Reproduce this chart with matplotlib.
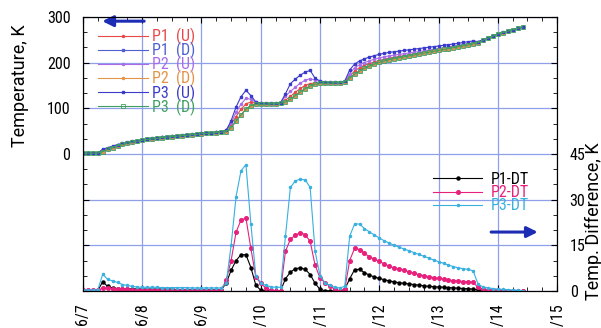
import numpy as np
import matplotlib.pyplot as plt
from matplotlib.ticker import MultipleLocator, FuncFormatter

plt.rcParams['font.family'] = ['Roboto Condensed', 'Liberation Sans Narrow', 'DejaVu Sans']

# sampling every 2 hours from 6/7 00:00
hours = np.arange(0, 180, 2)
days = hours / 24.0

date_labels = ['6/7', '6/8', '6/9', '6/10', '6/11', '6/12', '6/13', '6/14', '6/15']

# downstream temperature (K)
temp_down = np.array([
    2, 2, 2, 2,
    5, 10, 14, 18, 21, 24, 26, 28,
    30, 32, 33, 34, 36, 37, 38, 39, 40, 41, 42, 43, 44, 45, 46, 47, 48, 49,
    58, 72, 86, 98, 106, 109, 109, 109, 110, 110, 111,
    114, 120, 128, 136, 143, 149, 153, 155, 155, 155, 156, 156,
    158, 166, 175, 182, 188, 193, 197,
    201, 204, 207, 209, 211, 213, 215, 217, 219, 221, 223, 225, 227, 229,
    231, 233, 235, 237, 239, 241,
    244, 249, 254, 258, 263, 266, 269, 272, 275, 278])

# temperature differences U - D (K)
dt_p1 = np.array([
    0.1, 0.1, 0.1, 0.1,
    3.0, 1.5, 1.0, 0.8, 0.7, 0.6, 0.6, 0.6,
    0.5, 0.5, 0.5, 0.5, 0.5, 0.5, 0.5, 0.4, 0.4, 0.4, 0.4, 0.4, 0.4, 0.4, 0.4, 0.4, 0.4,
    2.5, 6.8, 10, 11.9, 11.9, 7.7, 1.9, 0.2, 0, 0, 0, 0,
    4, 6.2, 7.3, 7.6, 7.1, 5.4, 2.5, 0.5, 0.1, 0, 0, 0,
    0.5, 4.0, 7.0, 7.1, 6.0, 5.2, 4.6, 4.1, 3.7, 3.3, 3.0, 2.7, 2.5, 2.3, 2.1,
    1.9, 1.7, 1.5, 1.4, 1.3, 1.2, 1.1, 1.0, 0.9, 0.8, 0.7, 0.6,
    0.3, 0.2, 0.1, 0.1, 0, 0, 0, 0, 0, 0])
dt_p2 = np.array([
    0.2, 0.2, 0.2, 0.2,
    1.0, 0.9, 0.8, 0.7, 0.6, 0.5, 0.4, 0.4,
    0.3, 0.3, 0.3, 0.2, 0.3, 0.3, 0.2, 0.2, 0.3, 0.2, 0.2, 0.2, 0.3, 0.2, 0.2, 0.2, 0.3,
    3.5, 10, 19.3, 23.3, 23.9, 14, 4.5, 2.5, 1.0, 0.2, 0.0, 0.1,
    13, 17, 18.3, 19.2, 18.5, 16.3, 8.5, 4.2, 2.7, 1.5, 0.6, 0.1,
    0.5, 10, 14, 13.6, 12.4, 11.2, 10.5, 9.7, 8.9, 8.1, 7.6, 7.2, 6.8, 6.3, 5.8,
    5.4, 5.0, 4.7, 4.4, 4.1, 3.9, 3.6, 3.4, 3.2, 3.1, 3.0, 2.8,
    1.2, 0.6, 0.4, 0.3, 0.2, 0.1, 0.1, 0.0, 0.0, 0.0])
dt_p3 = np.array([
    0.3, 0.3, 0.3, 0.3,
    5.5, 3.8, 3.3, 2.8, 2.1, 1.8, 1.5, 1.3,
    1.2, 1.2, 1.2, 1.2, 1.1, 1.1, 1.1, 1.1, 1.1, 1.1, 1.0, 1.0, 1.0, 1.0, 1.0, 1.0, 1.0,
    2.5, 15, 31, 39.5, 41.5, 22, 5, 2.7, 1.8, 1.4, 1.2, 1.2,
    18, 34, 36.2, 36.7, 36.5, 34, 13, 5, 2.7, 1.8, 1.2, 1.0,
    1.5, 18, 22, 22, 20.5, 19.4, 18.4, 17.4, 16.5, 15.7, 15.0, 14.4, 13.8, 13.2, 12.6,
    12.0, 11.4, 10.8, 10.2, 9.6, 9.1, 8.5, 8.0, 7.6, 7.3, 7.1, 6.6,
    2.2, 1.3, 1.0, 0.8, 0.6, 0.5, 0.4, 0.3, 0.2, 0.1])

# upstream = downstream + difference
temp_up_p1 = temp_down + dt_p1
temp_up_p2 = temp_down + dt_p2
temp_up_p3 = temp_down + dt_p3

grid_c = '#8f9fea'
label_font = ['Roboto', 'DejaVu Sans']

fig = plt.figure(figsize=(6.01, 3.28), dpi=100)
ax = fig.add_axes([0.138, 0.113, 0.789, 0.835])
ax2 = ax.twinx()

# temperature curves (left axis)
ax.plot(days, temp_up_p1, color='#e84848', lw=0.8, marker='o', ms=1.5, label='P1  (U)')
ax.plot(days, temp_down, color='#5060d0', lw=0.8, marker='s', ms=1.5, label='P1  (D)')
ax.plot(days, temp_up_p2, color='#a86ce8', lw=0.8, marker='o', ms=1.5, label='P2  (U)')
ax.plot(days, temp_down, color='#e49448', lw=0.8, marker='o', ms=1.5, label='P2  (D)')
ax.plot(days, temp_up_p3, color='#3a3acc', lw=0.8, marker='s', ms=1.8, label='P3  (U)')
ax.plot(days, temp_down, color='#40a060', lw=0.8, marker='s', ms=2.8, mfc='none',
        mew=0.6, label='P3  (D)')

ax.set_xlim(0, 8)
ax.set_ylim(-300, 300)
ax.xaxis.set_minor_locator(MultipleLocator(0.25))
ax.set_xticks(range(9))
ax.set_xticklabels(date_labels, rotation=90, fontsize=11.5)
ax.yaxis.set_major_locator(MultipleLocator(100))
ax.yaxis.set_minor_locator(MultipleLocator(100 / 3))
ax.yaxis.set_major_formatter(FuncFormatter(lambda v, p: '%d' % v if v >= 0 else ''))
ax.tick_params(axis='both', which='both', direction='in', top=True, labelsize=11.5)
ax.tick_params(axis='y', which='both', right=False)
ax.tick_params(axis='x', pad=9)
ax.tick_params(axis='y', pad=9)
ax.tick_params(which='major', length=4)
ax.tick_params(which='minor', length=3)
ax.grid(True, which='major', color=grid_c, lw=0.9)
ax.set_axisbelow(True)
ax.set_ylabel('Temperature, K', fontsize=13, family=label_font)
ax.yaxis.set_label_coords(-0.114, 0.75)

ax.legend(loc='upper left', bbox_to_anchor=(0.032, 0.96), frameon=False,
          fontsize=11.5, handlelength=3.1, handletextpad=0.3, labelspacing=-0.2,
          labelcolor='linecolor', borderaxespad=0, borderpad=0)

# temperature differences (right axis)
ax2.plot(days, dt_p1, color='black', lw=0.8, marker='o', ms=2.2, label='P1-DT')
ax2.plot(days, dt_p2, color='#e8207c', lw=0.8, marker='o', ms=2.6, label='P2-DT')
ax2.plot(days, dt_p3, color='#38b0e0', lw=0.8, marker='o', ms=1.5, label='P3-DT')
ax2.set_ylim(0, 90)
ax2.yaxis.set_major_locator(MultipleLocator(15))
ax2.yaxis.set_minor_locator(MultipleLocator(5))
ax2.yaxis.set_major_formatter(FuncFormatter(lambda v, p: '%d' % v if v <= 45 else ''))
ax2.tick_params(axis='y', which='both', direction='in', labelsize=11.5, pad=9)
ax2.tick_params(which='major', length=4)
ax2.tick_params(which='minor', length=3)
ax2.set_ylabel('Temp. Difference, K', fontsize=13, family=label_font)
ax2.yaxis.set_label_coords(1.059, 0.255)

ax2.legend(loc='upper left', bbox_to_anchor=(0.738, 0.434), frameon=False,
           fontsize=11.5, handlelength=3.1, handletextpad=0.5, labelspacing=-0.12,
           labelcolor='linecolor', borderaxespad=0, borderpad=0)

# axis direction arrows
ax.annotate('', xy=(0.035, 0.985), xytext=(0.135, 0.985), xycoords='axes fraction',
            arrowprops=dict(arrowstyle='-|>', color='#1c2cb4', lw=2.2, mutation_scale=16))
ax.annotate('', xy=(0.965, 0.215), xytext=(0.855, 0.215), xycoords='axes fraction',
            arrowprops=dict(arrowstyle='-|>', color='#1c2cb4', lw=2.2, mutation_scale=16))

plt.savefig('out.png', dpi=100)
